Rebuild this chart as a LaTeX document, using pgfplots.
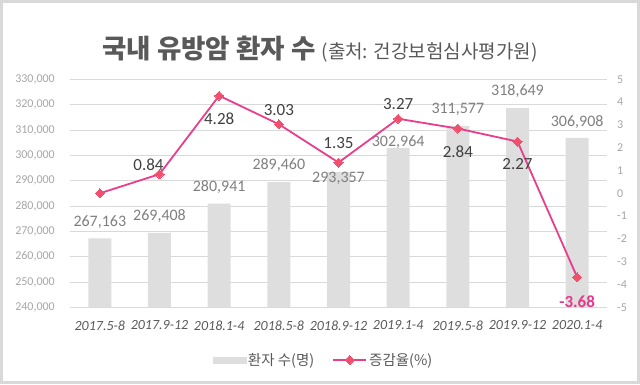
\documentclass[border=0pt]{standalone}
\usepackage{pgfplots}
\pgfplotsset{compat=1.18}
\usepackage{pgfplotstable}
\usepackage{fontspec}
\setmainfont{Carlito}
\newfontfamily\kr{Noto Sans CJK KR}
\definecolor{barc}{HTML}{DEDEDE}
\definecolor{linec}{HTML}{E83E8C}
\definecolor{markc}{HTML}{F0506E}
\definecolor{gridc}{HTML}{D9D9D9}
\definecolor{tickc}{HTML}{A6A6A6}
\definecolor{txtc}{HTML}{595959}
\definecolor{barlab}{HTML}{7F7F7F}
\definecolor{linelab}{HTML}{404040}
\definecolor{neglab}{HTML}{E8388A}
\definecolor{framec}{HTML}{D9D9D9}
\pgfplotsset{linelegend/.style={legend image code/.code={\draw[mark repeat=2,mark phase=2,##1] plot coordinates {(0pt,0pt) (16.5pt,0pt) (33pt,0pt)};}}}

\pgfplotstableread{
x pat rate
0 267163 0
1 269408 0.84
2 280941 4.28
3 289460 3.03
4 293357 1.35
5 302964 3.27
6 311577 2.84
7 318649 2.27
8 306908 -3.68
}\datatable

\begin{document}
\begin{tikzpicture}
\begin{axis}[
  width=537pt, height=228pt, scale only axis,
  xmin=-0.5, xmax=8.5, ymin=240000, ymax=330000,
  ytick={240000,250000,260000,270000,280000,290000,300000,310000,320000,330000},
  yticklabels={{240,000},{250,000},{260,000},{270,000},{280,000},{290,000},{300,000},{310,000},{320,000},{330,000}},
  xtick={0,...,8},
  xticklabels={2017.5-8,2017.9-12,2018.1-4,2018.5-8,2018.9-12,2019.1-4,2019.5-8,2019.9-12,2020.1-4},
  axis x line*=bottom, axis y line*=left,
  y axis line style={draw=none},
  x axis line style={gridc, line width=0.8pt},
  major tick length=0pt,
  ymajorgrids, grid style={gridc, line width=0.8pt},
  scaled y ticks=false,
  yticklabel style={text=tickc, font=\fontsize{12}{14}\selectfont, inner sep=0pt, xshift=-15pt},
  xticklabel style={text=txtc, font=\fontsize{14}{16}\selectfont\itshape, yshift=-10pt},
  clip mode=individual]
\addplot[ybar, bar width=23pt, fill=barc, draw=none, bar shift=0pt] table[x=x,y=pat]{\datatable};
\coordinate (O) at (rel axis cs:0,0);
\begin{scope}[every node/.style={text=barlab, font=\fontsize{16}{18}\selectfont, inner sep=0pt}]
\node[yshift=16.5pt] at (axis cs:0,267163) {267,163};
\node[yshift=16.5pt] at (axis cs:1,269408) {269,408};
\node[yshift=16.5pt] at (axis cs:2,280941) {280,941};
\node[yshift=16.5pt] at (axis cs:3,289460) {289,460};
\node[yshift=-6.5pt] at (axis cs:4,293357) {293,357};
\node[yshift=5.8pt] at (axis cs:5,302964) {302,964};
\node[yshift=16.5pt] at (axis cs:6,311577) {311,577};
\node[yshift=16.8pt] at (axis cs:7,318649) {318,649};
\node[yshift=16pt] at (axis cs:8,306908) {306,908};
\end{scope}
\end{axis}

\begin{axis}[
  width=537pt, height=228pt, scale only axis,
  xmin=-0.5, xmax=8.5, ymin=-5, ymax=5,
  ytick={-5,-4,-3,-2,-1,0,1,2,3,4,5},
  yticklabels={-5,-4,-3,-2,-1,0,1,2,3,4,5},
  axis x line=none, axis y line*=right,
  y axis line style={draw=none},
  major tick length=0pt,
  yticklabel style={text=tickc, font=\fontsize{12}{14}\selectfont, inner sep=0pt, anchor=west, xshift=10pt},
  clip mode=individual,
  legend columns=2,
  legend style={at={(axis description cs:0.472,-0.231)}, anchor=center, draw=none, fill=none,
    font=\kr\fontsize{14.5}{16}\selectfont, text=txtc,
    /tikz/every even column/.append style={column sep=16pt}},
  ]
\addlegendimage{legend image code/.code={\fill[barc] (0pt,-3pt) rectangle (33pt,3pt);}}
\addlegendentry{환자 수(명)}
\addplot[linec, line width=1.8pt, mark=square*, mark size=3.2pt,
  mark options={rotate=45, fill=markc, draw=markc, line width=0pt}, linelegend]
  table[x=x,y=rate]{\datatable};
\addlegendentry{증감율(\%)}
\begin{scope}[every node/.style={text=linelab, font=\fontsize{17}{19}\selectfont, inner sep=0pt}]
\node[xshift=-11pt, yshift=9pt] at (axis cs:1,0.84) {0.84};
\node[yshift=-22.6pt] at (axis cs:2,4.28) {4.28};
\node[yshift=14pt] at (axis cs:3,3.03) {3.03};
\node[yshift=19pt] at (axis cs:4,1.35) {1.35};
\node[yshift=14.3pt] at (axis cs:5,3.27) {3.27};
\node[yshift=-23.4pt] at (axis cs:6,2.84) {2.84};
\node[yshift=-22.7pt] at (axis cs:7,2.27) {2.27};
\node[yshift=-24pt, text=neglab, font=\fontsize{17}{19}\selectfont\bfseries] at (axis cs:8,-3.68) {-3.68};
\end{scope}
\end{axis}
\pgfresetboundingbox
\begin{scope}[shift={(O)}, x=1pt, y=1pt]
\useasboundingbox (-70,-76.7) rectangle (570,307.3);
\draw[framec, line width=3pt] (-68.5,-75.5) rectangle (568.5,305.8);
\node[anchor=base, text=txtc, inner sep=0pt] at (250,249.2)
  {\kr\fontsize{26.5}{30}\selectfont\bfseries 국내 유방암 환자 수 \fontsize{19}{22}\selectfont\mdseries (출처: 건강보험심사평가원)};
\end{scope}
\end{tikzpicture}
\end{document}
